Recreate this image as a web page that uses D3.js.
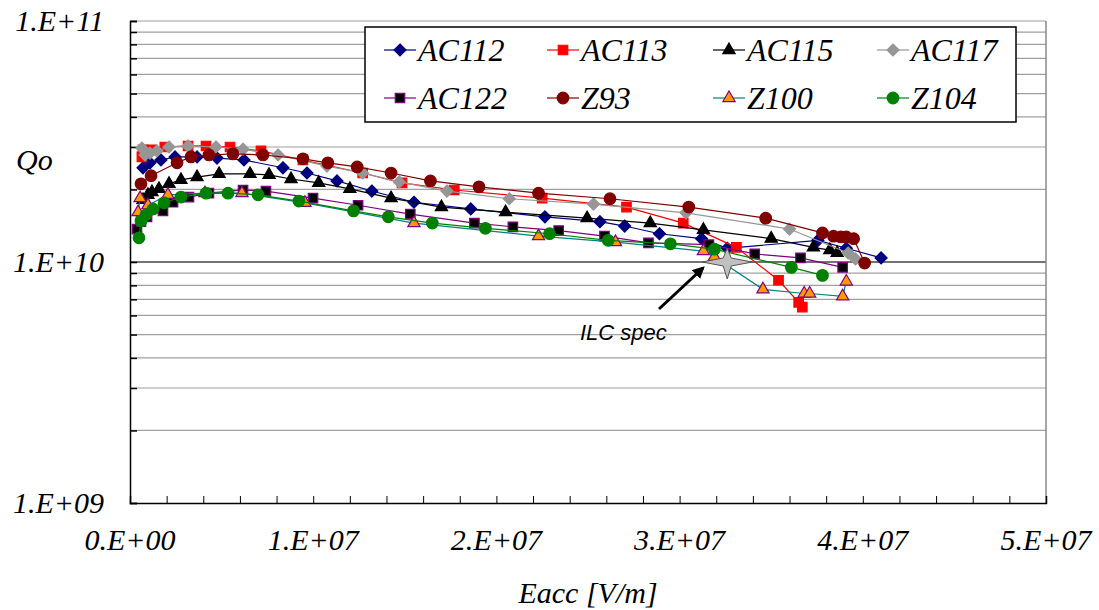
<!DOCTYPE html>
<html>
<head>
<meta charset="utf-8">
<script src="https://cdn.jsdelivr.net/npm/d3@7"></script>
</head>
<body style="margin:0">
<div id="chart"></div>
<script>
const width = 1099;
const height = 610;

// Eacc in MV/m, Qo in units of 1e10
const ac112 = [[0.71,2.46],[1.09,2.58],[1.69,2.65],[2.46,2.73],[3.66,2.73],[4.75,2.70],[6.22,2.65],[8.35,2.46],[9.66,2.34],[11.3,2.17],[13.2,1.97],[15.5,1.77],[18.6,1.66],[22.65,1.54],[25.65,1.47],[27.0,1.41],[28.9,1.31],[31.2,1.25],[32.6,1.14],[37.55,1.23],[39.1,1.14],[41.0,1.04]];
const ac113 = [[0.65,2.73],[0.71,2.92],[1.2,2.92],[1.9,3.0],[3.17,3.03],[4.15,3.03],[5.46,3.0],[7.15,2.89],[9.44,2.65],[12.7,2.34],[14.85,2.13],[17.7,1.99],[22.5,1.84],[27.1,1.69],[30.2,1.45],[33.1,1.15],[35.4,0.84],[36.5,0.68],[36.7,0.65]];
const ac115 = [[0.71,1.81],[0.98,1.90],[1.2,1.95],[1.58,2.01],[2.13,2.11],[2.78,2.19],[3.66,2.25],[4.86,2.32],[6.55,2.32],[7.59,2.30],[8.79,2.21],[10.3,2.13],[12.0,2.01],[14.25,1.84],[17.0,1.69],[20.5,1.61],[24.95,1.52],[28.4,1.45],[31.3,1.36],[35.0,1.25],[37.3,1.15],[38.2,1.12],[38.6,1.09]];
const ac117 = [[0.65,2.97],[0.82,2.78],[1.09,2.83],[1.47,2.89],[2.13,3.0],[3.17,3.03],[4.69,3.0],[6.17,2.94],[8.08,2.78],[10.75,2.50],[12.7,2.34],[14.7,2.15],[17.3,1.97],[20.7,1.83],[25.3,1.74],[30.35,1.60],[36.0,1.37],[39.2,1.09],[39.6,1.03]];
const ac122 = [[0.38,1.37],[0.6,1.47],[0.93,1.54],[1.8,1.63],[2.35,1.77],[3.22,1.86],[4.31,1.93],[6.17,1.99],[7.42,1.97],[9.99,1.84],[12.45,1.72],[15.3,1.58],[18.8,1.45],[20.9,1.40],[23.4,1.35],[25.9,1.28],[28.3,1.20],[31.6,1.18],[34.1,1.08],[36.6,1.04],[38.9,0.95]];
const z93 = [[0.6,2.11],[1.15,2.28],[2.57,2.58],[3.33,2.73],[4.31,2.78],[5.62,2.81],[7.26,2.78],[9.44,2.68],[10.8,2.58],[12.4,2.48],[14.25,2.34],[16.4,2.17],[19.05,2.05],[22.3,1.93],[26.2,1.83],[30.5,1.69],[34.7,1.52],[37.8,1.32],[38.4,1.28],[38.8,1.27],[39.1,1.27],[39.5,1.25],[40.1,0.99]];
const z100 = [[0.44,1.61],[0.55,1.84],[0.98,1.72],[2.07,1.90],[4.09,1.93],[6.11,1.93],[9.55,1.76],[15.5,1.45],[22.3,1.28],[26.5,1.21],[31.3,1.11],[31.9,1.05],[34.55,0.77],[36.8,0.74],[37.1,0.74],[38.9,0.72],[39.1,0.83]];
const z104 = [[0.49,1.26],[0.6,1.48],[0.87,1.57],[1.26,1.66],[1.86,1.76],[2.78,1.86],[4.15,1.93],[5.35,1.93],[6.99,1.90],[9.22,1.79],[12.2,1.63],[14.1,1.54],[16.5,1.45],[19.4,1.38],[22.9,1.31],[26.1,1.23],[29.5,1.19],[31.9,1.13],[36.1,0.95],[37.8,0.88]];
const ilcSpec = [[32.6,1.0]];

const seriesNames = ["AC112", "AC113", "AC115", "AC117", "AC122", "Z93", "Z100", "Z104"];
const seriesData = [ac112, ac113, ac115, ac117, ac122, z93, z100, z104];
const lineColors = ["#000080", "#ff0000", "#000000", "#969696", "#800080", "#800000", "#008080", "#008000"];
const fillColors = ["#000080", "#ff0000", "#000000", "#969696", "#000000", "#800000", "#ff9900", "#008000"];
const strokeColors = ["#000080", "#ff0000", "#000000", "#969696", "#800080", "#800000", "#800080", "#008000"];
const shapes = ["diamond", "square", "triangle", "diamond", "square", "circle", "triangle", "circle"];

const xTicks = [0, 1e7, 2e7, 3e7, 4e7, 5e7];
const xTickLabels = ["0.E+00", "1.E+07", "2.E+07", "3.E+07", "4.E+07", "5.E+07"];
const yMajor = [1e9, 1e10, 1e11];
const yTickLabels = ["1.E+09", "1.E+10", "1.E+11"];

const x = d3.scaleLinear().domain([0, 5e7]).range([130, 1046]);
const y = d3.scaleLog().domain([1e9, 1e11]).range([503, 21]);

const svg = d3.select("#chart").append("svg")
    .attr("width", width).attr("height", height)
    .attr("font-family", "Times New Roman");
svg.append("rect").attr("width", width).attr("height", height).attr("fill", "#fff");

// grid lines at every minor log step
const gridVals = [];
for (const dec of [1e9, 1e10]) {
    for (let k = 1; k <= 9; k++) gridVals.push(k * dec);
}
gridVals.push(1e11);

svg.append("g").selectAll("line")
    .data(gridVals.filter(v => v > 1e9))
    .enter().append("line")
    .attr("x1", x(0)).attr("x2", x(5e7))
    .attr("y1", d => y(d)).attr("y2", d => y(d))
    .attr("stroke", d => d === 1e10 ? "#444" : "#a0a0a0")
    .attr("stroke-width", d => d === 1e10 ? 1.5 : 1.2);

// right border
svg.append("line").attr("x1", x(5e7)).attr("x2", x(5e7)).attr("y1", y(1e11)).attr("y2", y(1e9))
    .attr("stroke", "#888").attr("stroke-width", 1.5);

// axes (ticks only, labels are drawn below)
const yAxis = d3.axisLeft(y).tickValues(gridVals).tickSize(-7).tickFormat("");
svg.append("g").attr("transform", `translate(${x(0)},0)`).call(yAxis)
    .call(g => g.select(".domain").attr("stroke", "#000").attr("stroke-width", 1.5))
    .call(g => g.selectAll(".tick line").attr("stroke", "#000").attr("stroke-width", 1.5));

const xAxis = d3.axisBottom(x).tickValues(d3.range(0, 5e7 + 1, 2e6)).tickSize(-7).tickFormat("");
svg.append("g").attr("transform", `translate(0,${y(1e9)})`).call(xAxis)
    .call(g => g.select(".domain").attr("stroke", "#000").attr("stroke-width", 1.5))
    .call(g => g.selectAll(".tick line").attr("stroke", "#000"));

// serif italic labels
function label(sel, size) {
    return sel.attr("font-family", "Times New Roman")
        .attr("font-style", "italic")
        .attr("font-size", size)
        .attr("fill", "#000");
}

const labels = svg.append("g").attr("font-family", "Times New Roman").attr("font-style", "italic");

labels.append("g").selectAll("text")
    .data(xTicks)
    .enter().append("text")
    .attr("x", d => x(d)).attr("y", 550)
    .attr("text-anchor", "middle")
    .call(label, 30)
    .text((d, i) => xTickLabels[i]);

labels.append("g").selectAll("text")
    .data(yMajor)
    .enter().append("text")
    .attr("x", 104).attr("y", d => y(d) + 10)
    .attr("text-anchor", "end")
    .call(label, 30)
    .text((d, i) => yTickLabels[i]);

labels.append("text").attr("x", 16).attr("y", 170).call(label, 30).text("Qo");
labels.append("text").attr("x", (x(0) + x(5e7)) / 2).attr("y", 603)
    .attr("text-anchor", "middle").call(label, 30).text("Eacc [V/m]");

// marker helper
function markerPath(shape) {
    if (shape === "diamond") return "M0,-6L6,0L0,6L-6,0Z";
    if (shape === "square") return d3.symbol(d3.symbolSquare, 90)();
    if (shape === "triangle") return d3.symbol(d3.symbolTriangle, 65)();
    return d3.symbol(d3.symbolCircle, 105)();
}

const line = d3.line().x(d => x(d[0] * 1e6)).y(d => y(d[1] * 1e10));

seriesData.forEach((data, i) => {
    const g = svg.append("g").attr("class", "series");
    g.append("path").datum(data)
        .attr("d", line)
        .attr("fill", "none")
        .attr("stroke", lineColors[i])
        .attr("stroke-width", 1.2);
    g.selectAll("path.mk").data(data).enter().append("path")
        .attr("class", "mk")
        .attr("d", markerPath(shapes[i]))
        .attr("transform", d => `translate(${x(d[0] * 1e6)},${y(d[1] * 1e10)})`)
        .attr("fill", fillColors[i])
        .attr("stroke", strokeColors[i])
        .attr("stroke-width", 1.2);
});

// ILC spec star
svg.append("g").selectAll("path").data(ilcSpec).enter().append("path")
    .attr("d", "M0,-14L4,-4L25,0L4,4L0,17L-4,4L-25,0L-4,-4Z")
    .attr("transform", d => `translate(${x(d[0] * 1e6)},${y(d[1] * 1e10)})`)
    .attr("fill", "#c0c0c0")
    .attr("stroke", "#555")
    .attr("stroke-width", 1);

// arrow + annotation
svg.append("defs").append("marker")
    .attr("id", "arrowhead").attr("viewBox", "0 0 10 10")
    .attr("refX", 8).attr("refY", 5)
    .attr("markerWidth", 4).attr("markerHeight", 4)
    .attr("orient", "auto")
    .append("path").attr("d", "M0,0L10,5L0,10Z").attr("fill", "#000");

svg.append("line")
    .attr("x1", 659).attr("y1", 309).attr("x2", 703).attr("y2", 268)
    .attr("stroke", "#000").attr("stroke-width", 3)
    .attr("marker-end", "url(#arrowhead)");

svg.append("text").attr("x", 580).attr("y", 340)
    .attr("font-family", "Liberation Sans").attr("font-style", "italic")
    .attr("font-size", 22).text("ILC spec");

// legend
const legend = svg.append("g");
legend.append("rect").attr("x", 365).attr("y", 27).attr("width", 651).attr("height", 95)
    .attr("fill", "#fff").attr("stroke", "#000").attr("stroke-width", 1.5);

const legendCols = [400, 563, 729, 893];
const legendRows = [50, 98];

seriesNames.forEach((name, i) => {
    const cx = legendCols[i % 4];
    const cy = legendRows[Math.floor(i / 4)];
    const item = legend.append("g");
    item.append("line").attr("x1", cx - 16).attr("x2", cx + 16).attr("y1", cy).attr("y2", cy)
        .attr("stroke", lineColors[i]).attr("stroke-width", 1.2);
    item.append("path").attr("d", markerPath(shapes[i]))
        .attr("transform", `translate(${cx},${cy})`)
        .attr("fill", fillColors[i]).attr("stroke", strokeColors[i]).attr("stroke-width", 1.2);
    item.append("text").attr("x", cx + 18).attr("y", cy + 11)
        .call(label, 32).text(name);
});
</script>
</body>
</html>
